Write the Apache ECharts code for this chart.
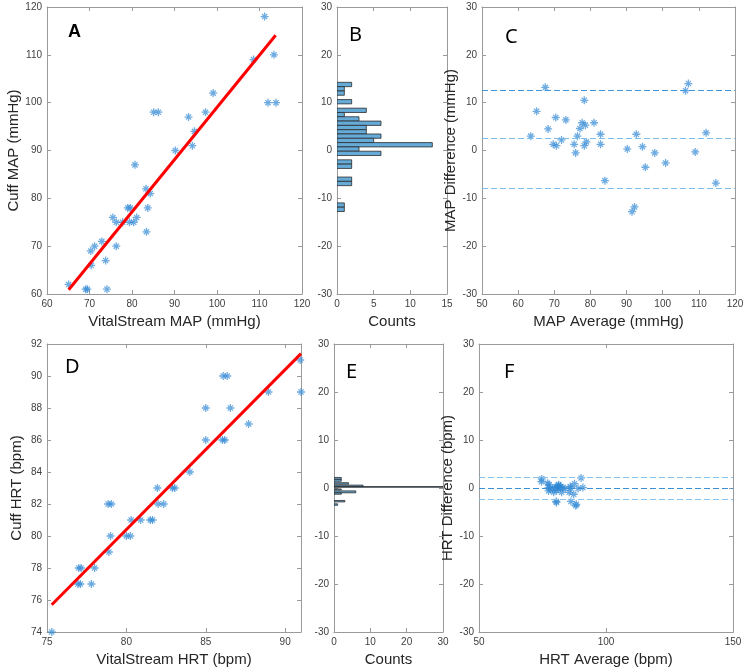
<!DOCTYPE html>
<html>
<head>
<meta charset="utf-8">
<script src="https://cdn.jsdelivr.net/npm/echarts@6/dist/echarts.min.js"></script>
<style>
html, body { margin: 0; background: #fff; }
#main { width: 750px; height: 670px; }
</style>
</head>
<body>
<div id="main"></div>
<script>
// A: VitalStream vs cuff MAP
var mapVS   = [65.1, 69.1, 69.5, 74.1, 70.4, 70.3, 71.2, 72.9, 73.8, 76.3, 75.5, 76.3, 77.8, 79.4, 80.4, 79.0, 79.6, 81.1,
               83.7, 84.3, 83.3, 83.4, 80.7, 85.1, 86.2, 90.2, 93.3, 94.2, 94.7, 97.3, 99.1, 108.6, 111.2, 113.4, 112.0, 113.9];
var mapCuff = [62, 61, 61, 61, 66, 69, 70, 71, 67, 70, 76, 75, 75, 75, 75, 78, 78, 76,
               78, 81, 82, 73, 87, 98, 98, 90, 97, 91, 94, 98, 102, 109, 118, 110, 100, 100];
var mapFitX = [65.1, 113.8];
var mapFitY = [60.9, 114.1];

// B: histogram of MAP difference (bin low, bin high, count)
var mapHistLo    = [13.35, 12.45, 11.55, 9.75, 7.95, 7.05, 6.15, 5.25, 4.35, 3.45, 2.55, 1.65, 0.75, -0.15, -1.05, -2.85, -3.75, -6.45, -7.35, -11.85, -12.75];
var mapHistHi    = [14.25, 13.35, 12.45, 10.65, 8.85, 7.95, 7.05, 6.15, 5.25, 4.35, 3.45, 2.55, 1.65, 0.75, -0.15, -1.95, -2.85, -5.55, -6.45, -10.95, -11.85];
var mapHistCount = [2, 1, 1, 2, 4, 1, 3, 6, 4, 4, 6, 5, 13, 3, 6, 2, 2, 2, 2, 1, 1];

// C: Bland-Altman MAP
var mapAvg  = [63.5, 65.1, 67.5, 68.3, 70.4, 69.7, 70.6, 72.0, 73.2, 75.5, 75.9, 76.4, 77.1, 77.7, 78.3, 78.6, 78.3, 78.9,
               81.0, 82.8, 82.8, 84.0, 90.2, 91.5, 92.2, 92.7, 94.4, 95.2, 97.8, 100.8, 106.3, 107.1, 109.0, 112.0, 114.7];
var mapDiff = [3.0, 8.2, 13.2, 4.5, 6.9, 1.3, 1.0, 2.2, 6.4, 1.3, -0.5, 3.0, 4.6, 5.8, 10.5, 5.3, 1.0, 1.8,
               5.8, 3.4, 1.3, -6.3, 0.3, -12.8, -11.8, 3.4, 0.8, -3.5, -0.5, -2.6, 12.5, 14.0, -0.3, 3.7, -6.8];
var mapLimits = [12.7, 2.6, -7.8];

// D: VitalStream vs cuff HRT
var hrtVS   = [75.3, 77.0, 77.15, 76.95, 77.1, 77.8, 78.0, 78.9, 79.0, 78.85, 79.05, 80.0, 80.25, 80.3, 80.9, 81.5, 81.65,
               81.95, 82.0, 82.35, 82.9, 83.05, 84.0, 85.0, 85.0, 86.05, 86.2, 86.1, 86.35, 86.55, 87.7, 88.95, 90.95, 91.0];
var hrtCuff = [74, 78, 78, 77, 77, 77, 78, 79, 80, 82, 82, 80, 80, 81, 81, 81, 81,
               83, 82, 82, 83, 83, 84, 86, 88, 86, 86, 90, 90, 88, 87, 89, 91, 89];
var hrtFitX = [75.3, 91.0];
var hrtFitY = [75.7, 91.4];

// E: histogram of HRT difference
var hrtHistLo    = [1.8, 1.4, 0.8, 0.3, 0.15, -0.4, -1.0, -1.3, -2.9, -3.6];
var hrtHistHi    = [2.2, 1.8, 1.1, 0.6, 0.3, -0.2, -0.6, -1.0, -2.6, -3.3];
var hrtHistCount = [2, 2, 4, 8, 30, 2, 6, 2, 3, 1];

// F: Bland-Altman HRT
var hrtAvg  = [74.7, 74.6, 77.0, 77.4, 77.4, 77.9, 77.6, 78.9, 79.4, 80.4, 80.5, 80.0, 80.3, 80.6, 81.0, 81.3, 81.4,
               82.0, 82.2, 82.5, 83.0, 83.9, 85.5, 85.9, 86.2, 86.1, 87.3, 87.6, 88.1, 88.3, 89.0, 90.2, 90.9];
var hrtDiff = [1.9, 1.3, 1.0, 0.1, -0.6, -0.1, 0.7, -0.2, -0.9, -2.8, -3.0, 0.0, 0.3, -0.5, 0.0, 0.5, 0.7,
               0.0, 0.3, -0.9, 0.0, -0.1, -0.9, 0.3, -2.8, 0.0, -1.3, 0.9, -3.7, -3.4, -0.1, 2.1, 0.1];
var hrtLimits = [2.26, -0.1, -2.4];

var FONT = 'Liberation Sans, Arial, sans-serif';
var boxGray = '#9a9a9a';
// asterisk marker like matlab '*'
var star = 'path://M0,42L100,42L100,58L0,58Z M42,0L58,0L58,100L42,100Z M12,23L23,12L88,77L77,88Z M77,12L88,23L23,88L12,77Z';

var grids = [
    {left: 47, top: 7, width: 255, height: 287},
    {left: 337, top: 7, width: 110, height: 287},
    {left: 482, top: 7, width: 253, height: 287},
    {left: 47, top: 344, width: 254, height: 288},
    {left: 334, top: 344, width: 109, height: 288},
    {left: 479, top: 344, width: 254, height: 288}
];
var xSpec = [
    {min: 60, max: 120, interval: 10, name: 'VitalStream MAP (mmHg)'},
    {min: 0, max: 15, interval: 5, name: 'Counts'},
    {min: 50, max: 120, interval: 10, name: 'MAP Average (mmHg)'},
    {min: 75, max: 91, interval: 5, name: 'VitalStream HRT (bpm)'},
    {min: 0, max: 30, interval: 10, name: 'Counts'},
    {min: 50, max: 150, interval: 50, name: 'HRT Average (bpm)'}
];
var ySpec = [
    {min: 60, max: 120, interval: 10, name: 'Cuff MAP (mmHg)'},
    {min: -30, max: 30, interval: 10, name: ''},
    {min: -30, max: 30, interval: 10, name: 'MAP Difference (mmHg)'},
    {min: 74, max: 92, interval: 2, name: 'Cuff HRT (bpm)'},
    {min: -30, max: 30, interval: 10, name: ''},
    {min: -30, max: 30, interval: 10, name: 'HRT Difference (bpm)'}
];

function axis(i, s, pos, main) {
    var step = s.interval;
    var base = s.min;
    return {
        type: 'value', gridIndex: i, position: pos,
        min: s.min, max: s.max, interval: s.interval,
        name: main ? s.name : '', nameLocation: 'middle',
        nameGap: (pos === 'bottom') ? 20 : 23,
        nameTextStyle: {fontSize: 15, color: '#262626', fontFamily: FONT},
        axisLine: {show: true, onZero: false, lineStyle: {color: boxGray, width: 1}},
        axisTick: {show: true, inside: true, length: 4, lineStyle: {color: boxGray}},
        axisLabel: {
            show: main, color: '#404040', fontSize: 10, fontFamily: FONT, margin: 5,
            showMinLabel: true, showMaxLabel: true,
            formatter: function (v) { return ((v - base) % step === 0) ? String(v) : ''; }
        },
        splitLine: {show: false}
    };
}

var xAxes = [], yAxes = [];
for (var i = 0; i < 6; i++) {
    xAxes.push(axis(i, xSpec[i], 'bottom', true));
    xAxes.push(axis(i, xSpec[i], 'top', false));
    yAxes.push(axis(i, ySpec[i], 'left', true));
    yAxes.push(axis(i, ySpec[i], 'right', false));
}

function pairs(xs, ys) {
    return xs.map(function (x, k) { return [x, ys[k]]; });
}
function bins(lo, hi, n) {
    return lo.map(function (l, k) { return [l, hi[k], n[k]]; });
}

function scatter(p, data) {
    return {
        type: 'scatter', xAxisIndex: 2 * p, yAxisIndex: 2 * p,
        symbol: star, symbolSize: 8, data: data, silent: true,
        itemStyle: {color: '#2f88d4', opacity: 0.7}
    };
}
function fitLine(p, data) {
    return {
        type: 'line', xAxisIndex: 2 * p, yAxisIndex: 2 * p, data: data,
        symbol: 'none', silent: true, z: 5,
        lineStyle: {color: '#ff0000', width: 3}
    };
}
function hist(p, data) {
    return {
        type: 'custom', xAxisIndex: 2 * p, yAxisIndex: 2 * p, data: data, silent: true, clip: true,
        encode: {x: 2, y: [0, 1]},
        renderItem: function (params, api) {
            var a = api.coord([0, api.value(1)]);
            var b = api.coord([api.value(2), api.value(0)]);
            return {
                type: 'rect',
                shape: {x: a[0], y: a[1], width: b[0] - a[0], height: b[1] - a[1]},
                style: {fill: 'rgb(102,170,215)', stroke: '#2b2b2b', lineWidth: 0.8}
            };
        }
    };
}
function limits(vals, colors) {
    return {
        silent: true, symbol: 'none', label: {show: false},
        lineStyle: {type: [6, 3], width: 1},
        data: vals.map(function (v, k) { return {yAxis: v, lineStyle: {color: colors[k], type: [6, 3], width: 1}}; })
    };
}

var cSeries = scatter(2, pairs(mapAvg, mapDiff));
cSeries.markLine = limits(mapLimits, ['#3f97dc', '#7dbdec', '#7dbdec']);
var fSeries = scatter(5, pairs(hrtAvg, hrtDiff));
fSeries.markLine = limits(hrtLimits, ['#86c3ee', '#3a8fd6', '#86c3ee']);

function letter(t, x, y, size, weight, family) {
    return {type: 'text', left: x, top: y, silent: true,
        style: {text: t, fontSize: size, fontWeight: weight, fontFamily: family, fill: '#000'}};
}

var chart = echarts.init(document.getElementById('main'), null, {renderer: 'canvas'});
chart.setOption({
    animation: false,
    backgroundColor: '#fff',
    grid: grids,
    xAxis: xAxes,
    yAxis: yAxes,
    series: [
        scatter(0, pairs(mapVS, mapCuff)),
        fitLine(0, pairs(mapFitX, mapFitY)),
        hist(1, bins(mapHistLo, mapHistHi, mapHistCount)),
        cSeries,
        scatter(3, pairs(hrtVS, hrtCuff)),
        fitLine(3, pairs(hrtFitX, hrtFitY)),
        hist(4, bins(hrtHistLo, hrtHistHi, hrtHistCount)),
        fSeries
    ],
    graphic: [
        letter('A', 68, 23, 18, 'bold', FONT),
        letter('B', 349, 25, 20, 'normal', 'Noto Sans'),
        letter('C', 505, 27, 20, 'normal', 'Noto Sans'),
        letter('D', 65, 357, 20, 'normal', 'Noto Sans'),
        letter('E', 346, 362, 20, 'normal', 'Noto Sans'),
        letter('F', 504, 362, 20, 'normal', 'Noto Sans')
    ]
});
</script>
</body>
</html>
